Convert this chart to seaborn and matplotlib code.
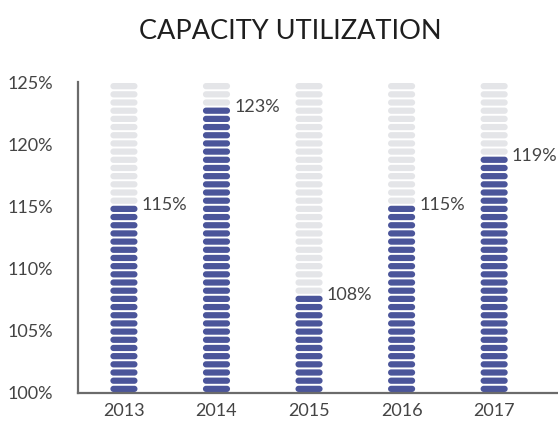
import numpy as np
import pandas as pd
import matplotlib
matplotlib.use("Agg")
import matplotlib.pyplot as plt
from matplotlib.path import Path
import seaborn as sns

years = ["2013", "2014", "2015", "2016", "2017"]
utilization = [115, 123, 108, 115, 119]
y_ticks = [100, 105, 110, 115, 120, 125]

y_min, y_max = 100, 125
n_segments = 38
seg = (y_max - y_min) / n_segments

# one row per pill: filled (blue) up to the value, grey above it
rows = []
for yr, v in zip(years, utilization):
    n_fill = int(round((v - y_min) / seg))
    for i in range(n_segments):
        rows.append({"year": yr, "level": y_min + (i + 0.5) * seg,
                     "part": "filled" if i < n_fill else "empty"})
df = pd.DataFrame(rows)

# pill shaped marker
r = 0.115
t = np.linspace(-np.pi / 2, np.pi / 2, 20)
right = np.column_stack([0.5 - r + r * np.cos(t), r * np.sin(t)])
left = np.column_stack([-0.5 + r - r * np.cos(t), -r * np.sin(t)])
verts = np.vstack([right, left, right[:1]])
pill = Path(verts, closed=True)

sns.set_theme(style="white")
plt.rcParams["font.family"] = ["Lato", "DejaVu Sans"]

fig = plt.figure(figsize=(5.58, 4.23), dpi=100)
ax = fig.add_axes([0.140, 0.071, 0.860, 0.735])

sns.scatterplot(data=df, x="year", y="level", hue="part",
                palette={"filled": "#4B559A", "empty": "#E4E5E8"},
                marker=pill, s=380, linewidth=0, legend=False, ax=ax)

for i, v in enumerate(utilization):
    n_fill = int(round((v - y_min) / seg))
    ax.text(i + 0.19, y_min + n_fill * seg, f"{v}%", ha="left", va="center",
            fontsize=13, color="#444444")

ax.set_xlim(-0.495, 4.69)
ax.set_ylim(y_min, y_max)
ax.set_yticks(y_ticks)
ax.set_yticklabels([f"{t}%" for t in y_ticks])
ax.set_xlabel("")
ax.set_ylabel("")
ax.tick_params(axis="both", length=0, labelsize=13, colors="#444444")
ax.tick_params(axis="y", pad=18)
ax.tick_params(axis="x", pad=7)

for side in ["top", "right"]:
    ax.spines[side].set_visible(False)
for side in ["left", "bottom"]:
    ax.spines[side].set_color("#6B6B6B")
    ax.spines[side].set_linewidth(1.6)

fig.text(0.52, 0.925, "CAPACITY UTILIZATION", ha="center", va="center",
         fontsize=19.5, color="#1E1E1E")

fig.savefig("out.png", dpi=100)
